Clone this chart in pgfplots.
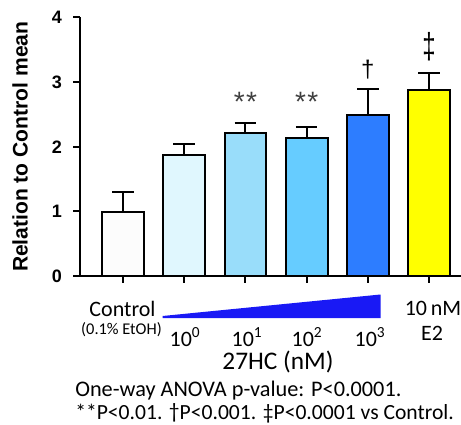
\documentclass[border=0pt]{standalone}
\usepackage{fontspec}
\setmainfont{Liberation Sans}
\newfontfamily\carlito{Carlito}
\usepackage{pgfplots}
\pgfplotsset{compat=1.18}

\definecolor{barA}{RGB}{252,252,252}
\definecolor{barB}{RGB}{224,247,254}
\definecolor{barC}{RGB}{153,221,250}
\definecolor{barD}{RGB}{102,204,255}
\definecolor{barE}{RGB}{45,125,255}
\definecolor{barF}{RGB}{255,255,0}
\definecolor{wedge}{RGB}{25,25,245}

% pixel position in the reference -> picture coordinates (axis origin at px 80,276)
\newcommand\pxy[2]{({(#1-80)*0.75pt},{(276-#2)*0.75pt})}

\pgfplotsset{
  sbar/.style={fill=#1, draw=black, line width=1.5pt,
    error bars/.cd, y dir=plus, y explicit,
    error bar style={line width=1.5pt, black},
    error mark options={rotate=90, mark size=8pt, line width=1.5pt, black}},
}

\begin{document}
\begin{tikzpicture}
\useasboundingbox \pxy{0}{0} rectangle \pxy{461}{425};
\begin{axis}[
  at={(0,0)}, anchor=south west,
  scale only axis, width=285.75pt, height=193.9pt,
  xmin=-0.70, xmax=5.52, ymin=0, ymax=4,
  axis x line*=bottom, axis y line*=left,
  axis line style={line width=1.5pt, -},
  tick align=outside, major tick length=5pt,
  tick style={black, line width=1.5pt},
  xtick={0,...,5}, xticklabels={},
  ytick={0,...,4},
  /pgf/number format/assume math mode=true,
  yticklabel style={font=\bfseries\fontsize{13.5}{14}\selectfont, xshift=-5pt},
  ylabel={Relation to Control mean},
  ylabel style={font=\bfseries\fontsize{15.8}{16}\selectfont,
    at={(axis description cs:-0.1575,0.5)}, anchor=center},
  ybar, bar width=31.3pt, bar shift=0pt,
  clip=false,
]
\addplot[sbar=barA] coordinates {(0,0.986) +- (0,0.319)};
\addplot[sbar=barB] coordinates {(1,1.873) +- (0,0.166)};
\addplot[sbar=barC] coordinates {(2,2.209) +- (0,0.155)};
\addplot[sbar=barD] coordinates {(3,2.132) +- (0,0.179)};
\addplot[sbar=barE] coordinates {(4,2.492) +- (0,0.398)};
\addplot[sbar=barF] coordinates {(5,2.879) +- (0,0.268)};

\node[font=\fontsize{21}{21}\selectfont, text=black!75] at (axis cs:2,2.69) {*\kern1pt*};
\node[font=\fontsize{21}{21}\selectfont, text=black!75] at (axis cs:3,2.69) {*\kern1pt*};
\node[font=\fontsize{18}{18}\selectfont] at (axis cs:4,3.20) {\textdagger};
\node[font=\fontsize{18}{18}\selectfont, yscale=1.5] at (axis cs:5,3.55) {\textdaggerdbl};
\end{axis}

\fill[wedge] \pxy{162.5}{318} -- \pxy{380.5}{318} -- \pxy{380.5}{294.5} -- \pxy{162.5}{316} -- cycle;

\begin{scope}[every node/.style={inner sep=0pt, font=\carlito\fontsize{16.5}{16.5}\selectfont}]
\node at \pxy{122.5}{309} {Control};
\node[font=\carlito\fontsize{12.3}{12.3}\selectfont] at \pxy{121.5}{330} {(0.1\% EtOH)};
\node at \pxy{185}{337} {10\textsuperscript{0}};
\node at \pxy{247}{337} {10\textsuperscript{1}};
\node at \pxy{307}{337} {10\textsuperscript{2}};
\node at \pxy{370}{337} {10\textsuperscript{3}};
\node at \pxy{433}{308} {10\,nM};
\node at \pxy{432}{333} {E2};
\node[font=\carlito\fontsize{19}{19}\selectfont] at \pxy{278}{362} {27HC (nM)};
\node[anchor=west, font=\carlito\fontsize{16.7}{17}\selectfont] at \pxy{75}{391} {One-way ANOVA p-value: P<0.0001.};
\node[anchor=west, font=\carlito\fontsize{16.2}{17}\selectfont] at \pxy{75}{413} {**P<0.01. \raisebox{1pt}{\textdagger}P<0.001. \textdaggerdbl P<0.0001 vs Control.};
\end{scope}
\end{tikzpicture}
\end{document}
